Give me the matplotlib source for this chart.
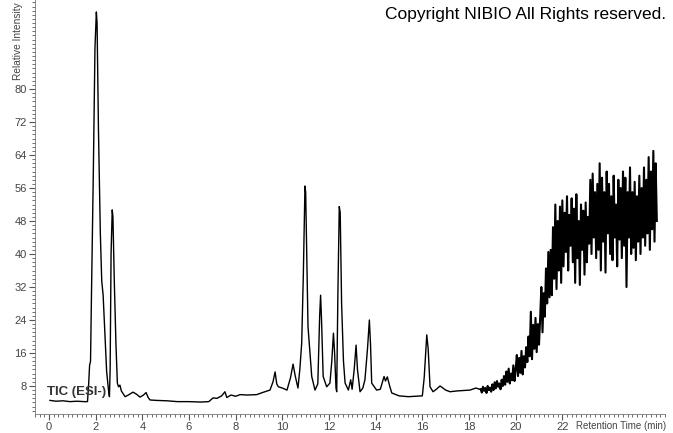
import numpy as np
import matplotlib.pyplot as plt
from matplotlib.ticker import MultipleLocator, FixedLocator

plt.rcParams['font.family'] = ['Liberation Sans', 'DejaVu Sans']

# TIC trace (retention time in min, relative intensity)
rt_main = [0.04, 0.3, 0.6, 0.9, 1.2, 1.5, 1.65,
           1.70, 1.74, 1.78, 1.82, 1.9, 1.97, 2.03, 2.06, 2.12, 2.2, 2.26, 2.32, 2.4,
           2.47, 2.55, 2.59, 2.62, 2.66, 2.71, 2.74, 2.8, 2.87, 2.93, 2.98, 3.04, 3.1,
           3.26, 3.4, 3.6, 3.75, 3.9, 4.05, 4.16, 4.25, 4.33, 4.6, 5.06, 5.5, 6.0, 6.5,
           6.85, 7.03, 7.2, 7.4, 7.54, 7.62, 7.8, 8.0, 8.19, 8.5, 8.9, 9.2, 9.47, 9.6,
           9.69, 9.76, 9.83, 10.0, 10.2, 10.35, 10.46, 10.55, 10.67, 10.75, 10.83, 10.9,
           10.97, 11.0, 11.1, 11.26, 11.4, 11.52, 11.6, 11.64, 11.68, 11.75, 11.9, 12.04,
           12.12, 12.19, 12.24, 12.3, 12.33, 12.38, 12.44, 12.48, 12.54, 12.62, 12.69,
           12.83, 12.93, 12.99, 13.08, 13.16, 13.22, 13.33, 13.45, 13.54, 13.65, 13.73,
           13.78, 13.83, 14.04, 14.2, 14.36, 14.42, 14.5, 14.6, 14.69, 15.0, 15.4, 15.7,
           16.0, 16.08, 16.19, 16.25, 16.33, 16.46, 16.6, 16.76, 17.0, 17.19, 17.5,
           18.04, 18.3, 18.45]
int_main = [4.5, 4.3, 4.4, 4.2, 4.3, 4.2, 4.2,
            8.5, 13.0, 14.0, 30.0, 60.0, 90.0, 98.7, 96.0, 70.0, 45.0, 33.5, 30.0, 20.0,
            11.5, 7.0, 5.4, 12.0, 40.0, 50.7, 49.0, 33.0, 18.0, 8.7, 7.8, 8.2, 6.8,
            5.4, 5.8, 6.5, 6.0, 5.3, 5.8, 6.4, 5.2, 4.6, 4.5, 4.4, 4.2, 4.2, 4.1,
            4.2, 5.1, 5.0, 5.6, 6.6, 5.2, 5.8, 5.5, 5.9, 5.8, 5.9, 6.5, 7.0, 9.0,
            11.4, 8.5, 7.8, 7.5, 7.0, 10.0, 13.3, 10.5, 7.5, 12.0, 18.4, 35.0,
            56.5, 55.0, 22.4, 10.3, 7.0, 8.5, 25.0, 30.0, 24.0, 10.3, 7.8, 8.7,
            14.0, 20.8, 16.0, 7.5, 6.6, 30.0, 51.5, 50.0, 28.0, 14.0, 8.7,
            7.0, 9.5, 7.2, 12.0, 17.9, 12.0, 6.6, 7.5, 9.5, 17.0, 24.0,
            18.0, 8.7, 7.0, 7.2, 10.3, 9.2, 10.2, 8.0, 6.3, 5.6, 5.4, 5.5,
            5.6, 10.0, 20.4, 17.0, 7.8, 6.6, 7.2, 8.0, 7.0, 6.6, 6.8,
            7.0, 7.5, 7.2]

# noisy gradient tail, one reading every 0.05 min from 18.5 min
int_tail = [7.2, 6.4, 7.8, 6.8, 7.5, 6.3, 8.0, 7.0, 7.6, 6.6,
            8.4, 7.0, 8.9, 7.4, 9.2, 7.8, 8.6, 7.2, 9.5, 8.0,
            10.4, 8.3, 11.5, 9.0, 12.2, 8.6, 11.0, 9.4, 13.0, 9.2,
            12.0, 15.5, 10.4, 14.8, 11.2, 16.5, 10.8, 15.2, 12.5, 17.4,
            13.8, 20.0, 15.2, 26.0, 14.5, 22.8, 17.0, 24.5, 16.2, 23.0,
            18.0, 24.5, 32.0, 21.0, 30.5, 24.8, 36.5, 28.0, 40.5, 29.5,
            41.0, 30.0, 46.5, 34.0, 52.0, 31.5, 48.0, 36.0, 51.5, 33.0,
            53.0, 37.0, 50.0, 40.5, 54.0, 36.0, 49.5, 42.0, 53.5, 38.0,
            51.0, 33.0, 54.5, 39.0, 48.0, 32.5, 52.0, 41.0, 50.5, 35.0,
            52.5, 38.0, 49.0, 42.5, 58.0, 40.0, 59.5, 44.0, 55.0, 39.0,
            57.0, 41.0, 62.0, 36.0, 58.5, 43.0, 55.0, 35.5, 60.0, 45.0,
            57.0, 40.0, 54.0, 38.5, 59.0, 44.0, 52.0, 37.0, 58.0, 43.5,
            56.0, 39.0, 60.0, 42.0, 58.5, 32.0, 55.0, 44.0, 61.0, 40.0,
            55.0, 41.5, 57.5, 38.5, 54.0, 43.0, 59.0, 40.0, 56.0, 44.0,
            61.0, 42.0, 58.0, 45.0, 63.5, 41.0, 60.0, 46.0, 65.0, 43.0, 62.0, 48.0]
rt_tail = 18.5 + 0.05 * np.arange(len(int_tail))

x_ticks = [0, 2, 4, 6, 8, 10, 12, 14, 16, 18, 20, 22]
y_ticks = [8, 16, 24, 32, 40, 48, 56, 64, 72, 80]

fig = plt.figure(figsize=(6.73, 4.33), dpi=100)
ax = fig.add_axes([35 / 673, 19 / 433, 630 / 673, 414 / 433])
ax.plot(np.append(rt_main, rt_tail[0]), np.append(int_main, int_tail[0]),
        color='black', lw=1.0)
ax.plot(rt_tail, int_tail, color='black', lw=1.5)

ax.set_xlim(-0.6, 26.4)
ax.set_ylim(1.2, 101.6)
ax.xaxis.set_major_locator(FixedLocator(x_ticks))
ax.xaxis.set_minor_locator(MultipleLocator(0.2))
ax.yaxis.set_major_locator(FixedLocator(y_ticks))
ax.yaxis.set_minor_locator(MultipleLocator(1))
ax.tick_params(which='major', length=4.5, width=0.8, color='#555555',
               labelsize=8, labelcolor='#444444', pad=1.5)
ax.tick_params(which='minor', length=2.5, width=0.6, color='#555555')

for s in ['top', 'right']:
    ax.spines[s].set_visible(False)
for s in ['left', 'bottom']:
    ax.spines[s].set_color('#777777')
    ax.spines[s].set_linewidth(0.6)

fig.text(666 / 673, 1 - 426 / 433, 'Retention Time (min)', fontsize=7,
         color='#444444', ha='right', va='center')
fig.text(18 / 673, 1 - 80 / 433, 'Relative Intensity', fontsize=7.3,
         color='#444444', rotation=90, ha='center', va='bottom')
fig.text(47 / 673, 1 - 392 / 433, 'TIC (ESI-)', fontsize=9.5,
         color='#333333', ha='left', va='center', fontweight='bold')
fig.text(666 / 673, 1 - 14 / 433, 'Copyright NIBIO All Rights reserved.',
         fontsize=12.5, color='black', ha='right', va='center')

fig.savefig('out.png', dpi=100)
